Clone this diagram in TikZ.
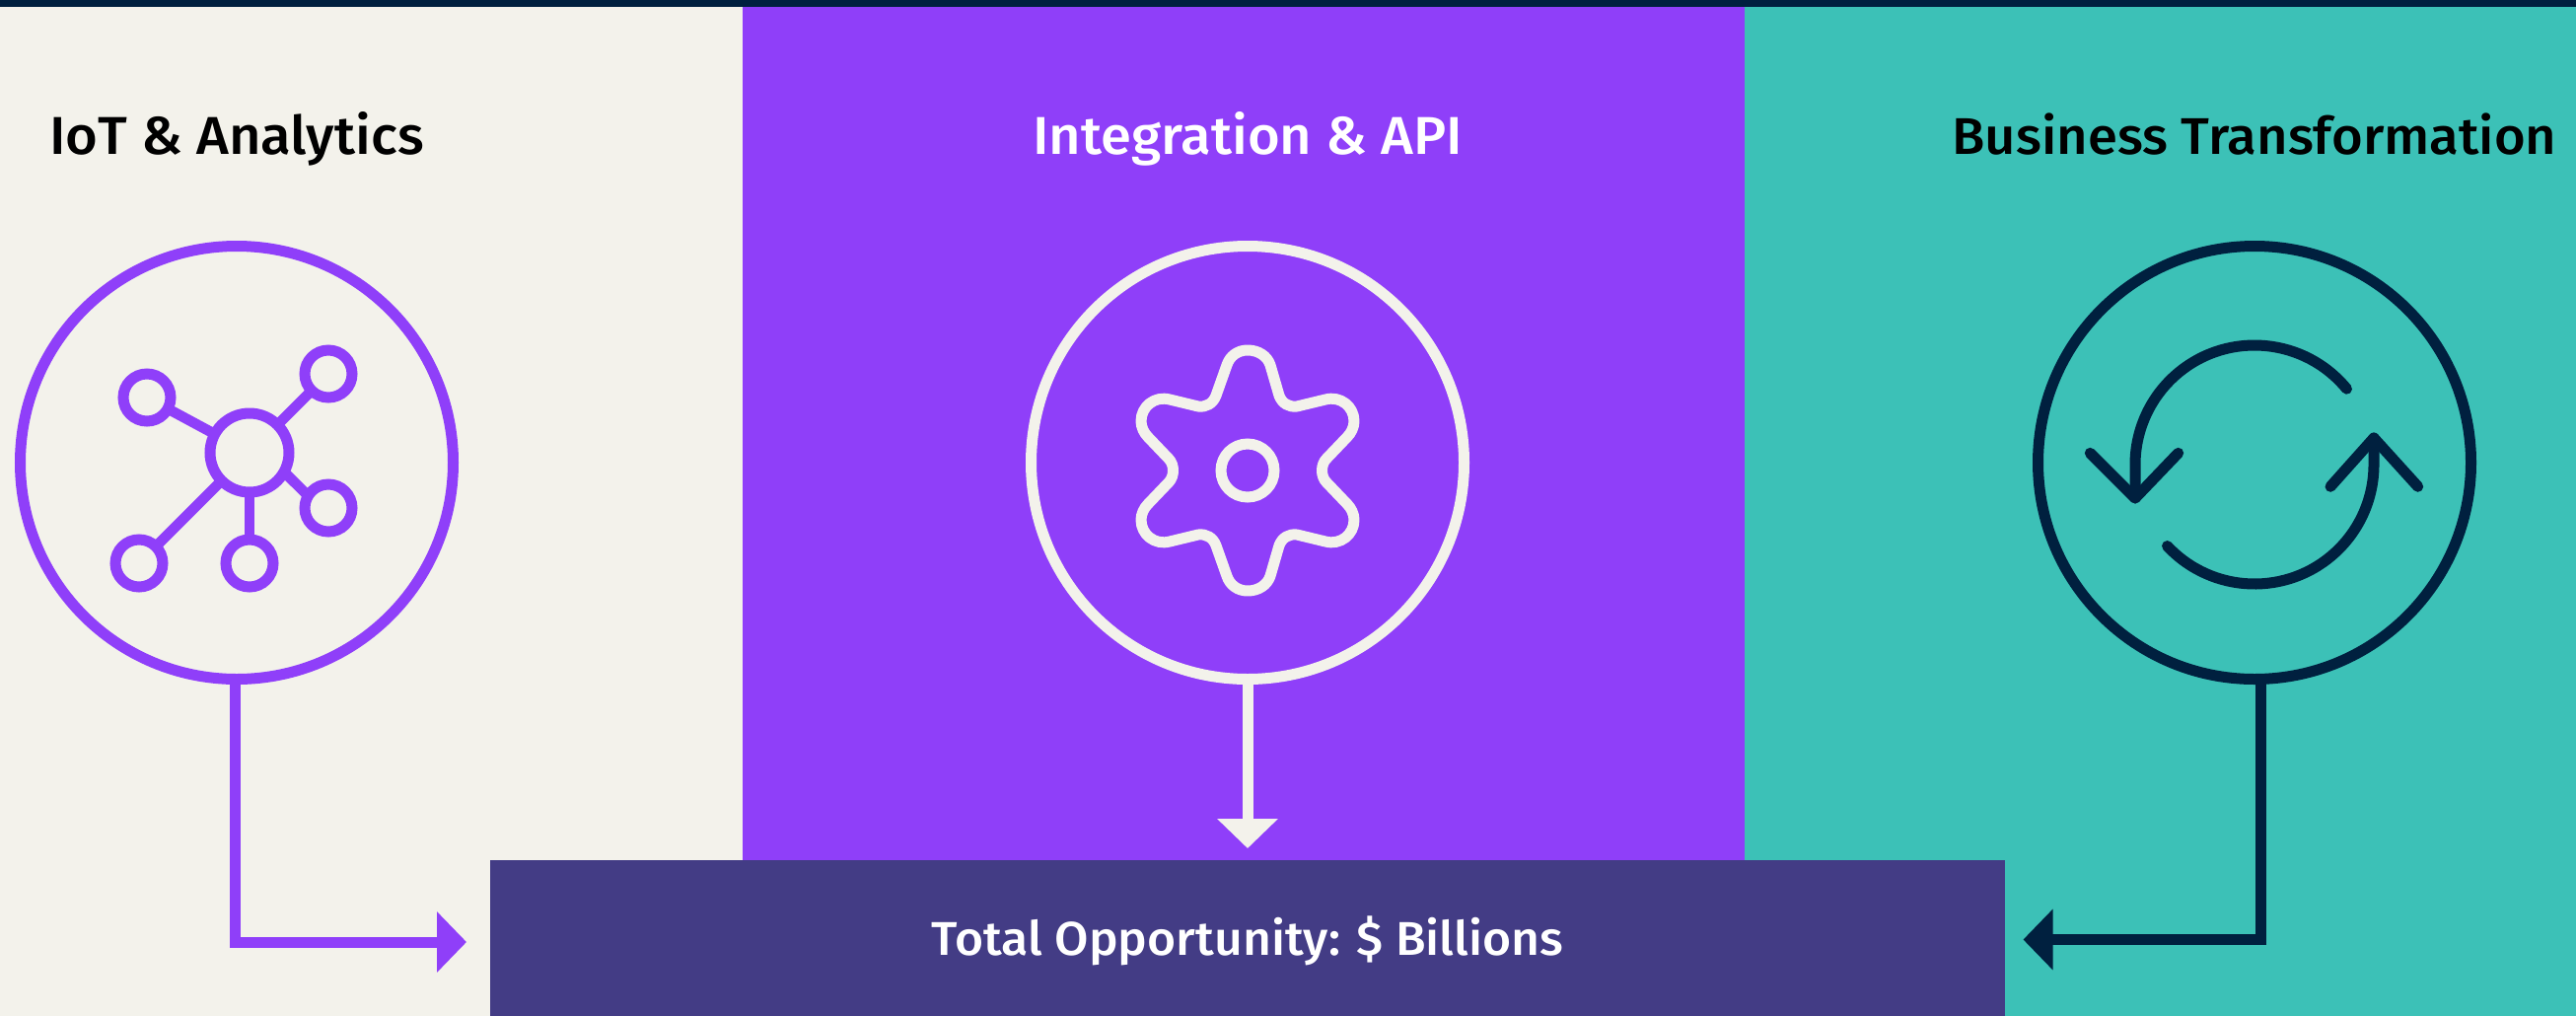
\documentclass[tikz,border=0pt]{standalone}
\usepackage{fontspec}
\setmainfont{Fira Sans}[UprightFont=* Medium, FakeStretch=1.04]
\usetikzlibrary{arrows.meta}
\definecolor{cream}{HTML}{F3F2EB}
\definecolor{violet}{HTML}{8F3FF9}
\definecolor{teal}{HTML}{3CC1B7}
\definecolor{indigo}{HTML}{433C85}
\definecolor{navy}{HTML}{00203F}
\tikzset{
    ring/.style={draw, circle, line width=11pt, minimum size=439pt, inner sep=0pt, outer sep=0pt},
    hubnode/.style={draw=violet, circle, line width=11pt, minimum size=80pt, inner sep=0pt, outer sep=0pt},
    leafnode/.style={draw=violet, circle, line width=11pt, minimum size=48pt, inner sep=0pt, outer sep=0pt},
    title/.style={anchor=base, font=\fontsize{54}{64}\selectfont},
    flow/.style={line width=11pt, -{Triangle[width=60pt,length=30pt]}},
    icon/.style={line width=11pt, line cap=round, line join=round},
}
\begin{document}
\begin{tikzpicture}[x=1pt, y=-1pt]
    \useasboundingbox (0, 0) rectangle (2612, 1029);

    % Panels
    \fill[cream] (0, 0) rectangle (753, 1031);
    \fill[violet] (753, 0) rectangle (1769, 1031);
    \fill[teal] (1769, 0) rectangle (2612, 1031);
    \fill[navy] (0, 0) rectangle (2612, 7);

    % Titles
    \node at (240, 156.5) (iottitle) [title, text=black] {IoT \& Analytics};
    \node at (1265, 156.5) (apititle) [title, text=white] {Integration \& API};
    \node at (2286, 156.5) (biztitle) [title, text=black, font=\fontsize{52.3}{62}\selectfont] {Business Transformation};

    % Total
    \node at (1265, 952) (total) [fill=indigo, minimum width=1536pt, minimum height=160pt, outer sep=0pt] {};
    \node at (1265, 968) (totaltext) [anchor=base, text=white, font=\fontsize{48}{58}\selectfont] {Total Opportunity: \$ Billions};

    % Rings
    \node at (240, 469) (iotring) [ring, draw=violet] {};
    \node at (1265, 469) (apiring) [ring, draw=cream] {};
    \node at (2286, 469) (bizring) [ring, draw=navy] {};

    % Network icon
    \node at (253, 459) (hub) [hubnode] {};
    \node at (149, 403) (leafa) [leafnode] {};
    \node at (333, 379) (leafb) [leafnode] {};
    \node at (333, 515) (leafc) [leafnode] {};
    \node at (253, 571) (leafd) [leafnode] {};
    \node at (141, 571) (leafe) [leafnode] {};
    \foreach \leaf in {leafa, leafb, leafd, leafe}
        \draw[violet, line width=10.5pt] (hub) -- (\leaf);
    \draw[violet, line width=10.5pt] (hub.-29) -- (leafc.149);

    % Gear icon
    \node at (1265, 477) (axle) [draw=cream, circle, line width=11pt, minimum size=54pt, inner sep=0pt] {};
    \begin{scope}[shift={(1265, 477)}]
        \draw[cream, icon] (-21, -107) .. controls (-18, -116) and (-10, -122) .. (0, -122)
            .. controls (11, -122) and (20, -116) .. (23, -107)
            -- (32, -76) .. controls (35, -68) and (42, -64) .. (50, -65)
            -- (79, -72) .. controls (94, -76) and (108, -65) .. (108, -50)
            .. controls (108, -44) and (105, -38) .. (101, -34)
            -- (80, -12) .. controls (74, -6) and (74, 6) .. (80, 12)
            -- (101, 34) .. controls (105, 38) and (108, 44) .. (108, 50)
            .. controls (108, 65) and (94, 76) .. (79, 72)
            -- (50, 65) .. controls (42, 64) and (35, 68) .. (32, 76)
            -- (23, 107) .. controls (20, 116) and (11, 122) .. (0, 122)
            .. controls (-10, 122) and (-18, 116) .. (-21, 107)
            -- (-32, 76) .. controls (-35, 68) and (-42, 64) .. (-50, 65)
            -- (-79, 72) .. controls (-94, 76) and (-108, 65) .. (-108, 50)
            .. controls (-108, 44) and (-105, 38) .. (-101, 34)
            -- (-80, 12) .. controls (-74, 6) and (-74, -6) .. (-80, -12)
            -- (-101, -34) .. controls (-105, -38) and (-108, -44) .. (-108, -50)
            .. controls (-108, -65) and (-94, -76) .. (-79, -72)
            -- (-50, -65) .. controls (-42, -64) and (-35, -68) .. (-32, -76)
            -- cycle;
    \end{scope}

    % Cycle icon
    \begin{scope}[shift={(2286, 471)}, y=1pt]
        \draw[navy, icon] (39.4:121pt) arc[start angle=39.4, end angle=180, radius=121pt] -- (-121, -34);
        \draw[navy, icon] (-166.7, 11.7) -- (-121, -34) -- (-77.3, 11.7);
        \draw[navy, icon] (223:121pt) arc[start angle=223, end angle=360, radius=121pt] -- (121, 27);
        \draw[navy, icon] (77, -22.3) -- (121, 27) -- (165.7, -22.3);
    \end{scope}

    % Arrows
    \coordinate (iottip) at (473, 955);
    \coordinate (apitip) at (1265, 860);
    \coordinate (biztip) at (2051.5, 952.5);
    \draw[flow, violet] ([xshift=-2pt]iotring.south) |- (iottip);
    \draw[flow, cream] (apiring.south) -- (apitip);
    \draw[flow, navy] ([xshift=6pt]bizring.south) |- (biztip);
\end{tikzpicture}
\end{document}
